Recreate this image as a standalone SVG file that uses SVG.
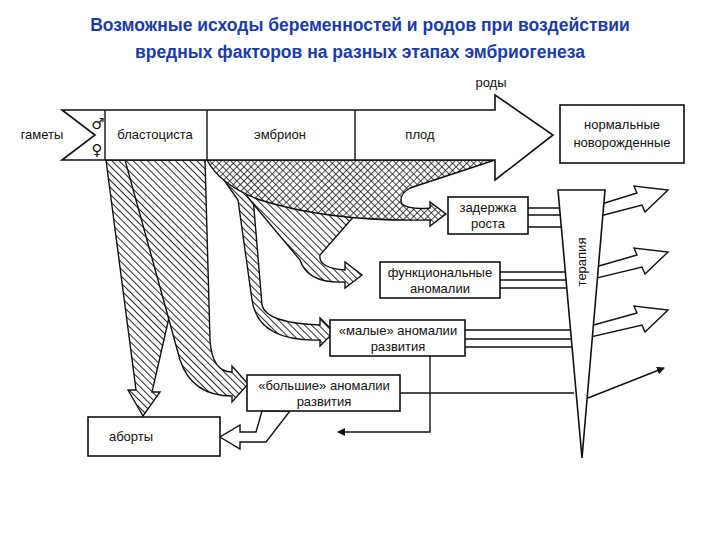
<svg xmlns="http://www.w3.org/2000/svg" width="720" height="540" viewBox="0 0 720 540">
<style>
.t{font-family:"Liberation Sans",Arial,sans-serif;font-size:13px;fill:#111;text-anchor:middle}
.s{font-family:"DejaVu Sans",sans-serif;font-size:15px;fill:#111;text-anchor:middle}
.ti{font-family:"Liberation Sans",Arial,sans-serif;font-size:17.5px;font-weight:bold;fill:#1a3ca8;text-anchor:middle}
.b{fill:#fff;stroke:#111;stroke-width:1.6}
.h{fill:url(#hatch);stroke:#111;stroke-width:1.4}
.x{fill:url(#cross);stroke:#111;stroke-width:1.4}
.l{fill:none;stroke:#111;stroke-width:1.4}
.ha{fill:#fff;stroke:#111;stroke-width:1.4}
</style>
<defs>
<pattern id="hatch" width="5" height="5" patternUnits="userSpaceOnUse" patternTransform="rotate(-45)"><rect width="5" height="5" fill="#fff"/><line x1="0" y1="0" x2="0" y2="5" stroke="#111" stroke-width="1.8"/></pattern>
<pattern id="cross" width="5" height="5" patternUnits="userSpaceOnUse" patternTransform="rotate(45)"><rect width="5" height="5" fill="#fff"/><line x1="0" y1="0" x2="0" y2="5" stroke="#111" stroke-width="1.5"/><line x1="0" y1="0" x2="5" y2="0" stroke="#111" stroke-width="1.5"/></pattern>
<marker id="ar" markerWidth="8" markerHeight="8" refX="7" refY="4" orient="auto" markerUnits="userSpaceOnUse"><path d="M0,0 L8,4 L0,8 Z" fill="#111"/></marker>
</defs>
<rect width="720" height="540" fill="#fff"/>
<text class="ti" x="360" y="31">Возможные исходы беременностей и родов при воздействии</text>
<text class="ti" x="360" y="58">вредных факторов на разных этапах эмбриогенеза</text>

<g id="connectors">
<path class="h" d="M106,160 L205,160 L152,392 L160,392 L143,416 L128,390 L136,390 Z"/>
<path class="h" d="M125,160 L205,160 L210,340 Q212,372 232,372 L232,366 L248,384 L232,402 L232,396 Q192,396 180,360 Z"/>
<path class="h" d="M210,160 L252,185 L262,305 Q266,323 320,325 L320,318 L334,332 L320,346 L320,340 Q258,342 252,300 L238,200 Z"/>
<path class="h" d="M235,175 L355,215 L320,255 Q318,268 345,270 L345,262 L362,275 L345,288 L345,282 Q308,284 300,260 L250,200 Z"/>
<path class="x" d="M207,160 L495,160 Q440,178 410,188 Q398,195 402,204 Q410,210 430,208 L430,202 L446,214 L430,226 L430,220 Q330,222 260,200 Q220,185 207,160 Z"/>
<path class="ha" d="M262,411 L256,432 L240,432 L240,425 L220,437 L240,449 L240,442 L266,442 L290,411 Z"/>
<path class="l" d="M430,356 L430,432 L338,432" marker-end="url(#ar)"/>
<path class="l" d="M528,208 L567,208 M528,215 L567,215 M528,227 L567,227"/>
<path class="l" d="M500,272 L568,272 M500,280 L568,280 M500,288 L569,288"/>
<path class="l" d="M465,330 L571,330 M465,339 L571,339 M465,347 L572,347"/>
<path class="l" d="M400,393 L574,393"/>
<path class="l" d="M588,398 L664,368" marker-end="url(#ar)"/>
<path class="ha" d="M595,206 L637,193 L634,186 L668,190 L645,212 L642,205 L596,217 Z"/>
<path class="ha" d="M592,268 L637,255 L634,248 L668,252 L645,274 L642,267 L593,279 Z"/>
<path class="ha" d="M590,326 L637,313 L634,306 L668,310 L645,332 L642,325 L591,337 Z"/>
</g>

<g id="bar">
<path class="b" d="M62,110 L495,110 L495,95 L553,135 L495,180 L495,160 L62,160 L95,135 Z"/>
<path class="l" d="M105,110 L105,160 M207,110 L207,160 M355,110 L355,160"/>
<text class="t" x="42" y="139">гаметы</text>
<text class="s" x="98" y="129">♂</text>
<text class="s" x="97" y="155">♀</text>
<text class="t" x="155" y="139">бластоциста</text>
<text class="t" x="280" y="139">эмбрион</text>
<text class="t" x="420" y="139">плод</text>
<text class="t" x="491" y="87">роды</text>
</g>
<g id="newborn"><rect class="b" x="560" y="105" width="124" height="58"/><text class="t" x="622" y="129">нормальные</text><text class="t" x="622" y="147">новорожденные</text></g>
<g id="delay"><rect class="b" x="448" y="197" width="80" height="37"/><text class="t" x="488" y="212">задержка</text><text class="t" x="488" y="228">роста</text></g>
<g id="func"><rect class="b" x="380" y="262" width="120" height="36"/><text class="t" x="440" y="277">функциональные</text><text class="t" x="440" y="293">аномалии</text></g>
<g id="small"><rect class="b" x="330" y="320" width="135" height="36"/><text class="t" x="398" y="335">«малые» аномалии</text><text class="t" x="398" y="351">развития</text></g>
<g id="big"><rect class="b" x="247" y="375" width="153" height="36"/><text class="t" x="324" y="390">«большие» аномалии</text><text class="t" x="324" y="406">развития</text></g>
<g id="abort"><rect class="b" x="88" y="417" width="132" height="39"/><text class="t" x="131" y="441">аборты</text></g>
<g id="therapy"><path class="b" d="M558,190 L605,190 L582,458 Z"/><text class="t" transform="translate(586,262) rotate(-90)">терапия</text></g>
</svg>
